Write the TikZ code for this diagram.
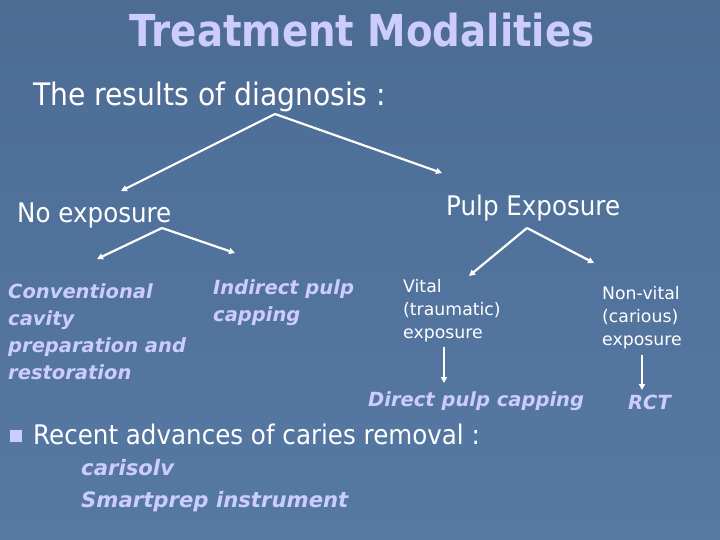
\documentclass[tikz,border=0pt]{standalone}
\usepackage{fontspec}
\setmainfont{DejaVu Sans}
\newfontfamily\slidebold{DejaVu Sans Bold}[FakeStretch=0.88]
\newfontfamily\slidefont{DejaVu Sans}[FakeStretch=0.91]
\usetikzlibrary{arrows.meta,positioning}
\definecolor{slidetop}{RGB}{76,108,148}
\definecolor{slidebot}{RGB}{86,121,164}
\definecolor{lav}{RGB}{204,204,255}

\tikzset{
  heading/.style={text=lav, inner sep=0pt, font=\fontsize{44bp}{50bp}\slidebold},
  lead/.style={text=white, inner sep=0pt, anchor=base west, font=\fontsize{31bp}{36bp}\slidefont},
  branch/.style={text=white, inner sep=0pt, anchor=base west, font=\fontsize{27bp}{32bp}\slidefont},
  leaf/.style={text=lav, inner sep=0pt, anchor=base west, align=left, font=\fontsize{19.5bp}{26.7bp}\selectfont\bfseries\itshape},
  state/.style={text=white, inner sep=0pt, anchor=base west, align=left, font=\fontsize{17.3bp}{23bp}\selectfont},
  link/.style={draw=white, line width=2.2bp, -{Triangle[length=6bp,width=6bp]}}
}

\begin{document}
\begin{tikzpicture}[x=1bp, y=-1bp]
\shade[top color=slidetop, bottom color=slidebot] (0,0) rectangle (720,540);
\useasboundingbox (0,0) rectangle (720,540);

% title and first level
\node[heading, anchor=base] (title) at (362,47) {Treatment Modalities};
\node[lead] (diag) at (33,106) {The results of diagnosis :};
\node[branch] (noexp) at (17,223) {No exposure};
\node[branch] (pulpexp) at (446,216) {Pulp Exposure};

\coordinate (diagsplit) at (275,114);
\coordinate (noexptip) at (121,191);
\coordinate (pulpexptip) at (442,173);
\draw[link] (diagsplit) -- (noexptip);
\draw[link] (diagsplit) -- (pulpexptip);

% no exposure
\node[leaf] (conv) at (8,379) {Conventional\\cavity\\preparation and\\restoration};
\node[leaf] (indirect) at (213,321) {Indirect pulp\\capping};

\coordinate (noexpsplit) at (162,228);
\coordinate (convtip) at (97,259);
\coordinate (indirecttip) at (235,253);
\draw[link] (noexpsplit) -- (convtip);
\draw[link] (noexpsplit) -- (indirecttip);

% pulp exposure
\node[state] (vital) at (403,338) {Vital\\(traumatic)\\exposure};
\node[state] (nonvital) at (602,345) {Non-vital\\(carious)\\exposure};
\node[leaf] (direct) at (368,406) {Direct pulp capping};
\node[leaf] (rct) at (628,409) {RCT};

\coordinate (pulpsplit) at (527,228);
\coordinate (vitaltip) at (469,276);
\coordinate (nonvitaltip) at (594,263);
\draw[link] (pulpsplit) -- (vitaltip);
\draw[link] (pulpsplit) -- (nonvitaltip);

\coordinate (vitalend) at (444,347);
\coordinate (directtip) at (444,383);
\coordinate (nonvitalend) at (642,355);
\coordinate (rcttip) at (642,390);
\draw[link] (vitalend) -- (directtip);
\draw[link] (nonvitalend) -- (rcttip);

% recent advances
\node[fill=lav, minimum size=12bp, inner sep=0pt] (bullet) at (16,436) {};
\node[lead, font=\fontsize{27bp}{32bp}\slidefont] (recent) at (33,444) {Recent advances of caries removal :};
\node[leaf, font=\fontsize{21.2bp}{32bp}\selectfont\bfseries\itshape] (tools) at (81,507) {carisolv\\Smartprep instrument};
\end{tikzpicture}
\end{document}
